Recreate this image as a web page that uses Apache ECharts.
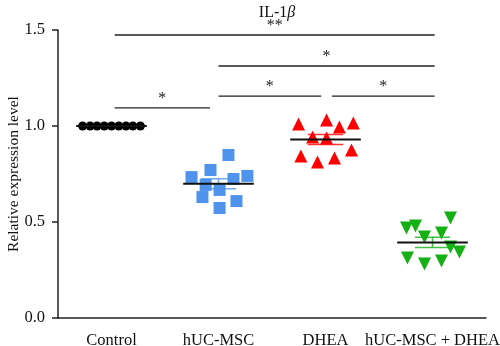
<!DOCTYPE html>
<html><head><meta charset="utf-8">
<script src="https://cdn.jsdelivr.net/npm/echarts@6/dist/echarts.min.js"></script>
<style>html,body{margin:0;padding:0;background:#fff}#c{width:500px;height:346px}</style>
</head><body><div id="c"></div><script>
const categories = ['Control', 'hUC-MSC', 'DHEA', 'hUC-MSC + DHEA'];
const controlValues = [1, 1, 1, 1, 1, 1, 1, 1, 1];
const controlJitter = [-0.27, -0.2, -0.135, -0.068, 0, 0.068, 0.135, 0.2, 0.27];
const hucValues = [0.849, 0.734, 0.771, 0.724, 0.740, 0.693, 0.667, 0.630, 0.609, 0.573];
const hucJitter = [0.093, -0.252, -0.075, 0.14, 0.27, -0.12, 0.01, -0.15, 0.168, 0.01];
const dheaValues = [1.010, 1.031, 0.995, 1.016, 0.943, 0.938, 0.844, 0.813, 0.833, 0.875];
const dheaJitter = [-0.252, 0.01, 0.13, 0.26, -0.12, 0.01, -0.23, -0.075, 0.084, 0.243];
const comboValues = [0.469, 0.479, 0.521, 0.422, 0.443, 0.370, 0.344, 0.3125, 0.281, 0.297];
const comboJitter = [-0.243, -0.159, 0.168, -0.075, 0.084, 0.168, 0.252, -0.234, -0.075, 0.084];
const yTicks = [0, 0.5, 1.0, 1.5];
const sigFrom = [0.03, 1.0, 1.0, 2.06, 0.03];
const sigTo = [3.02, 3.02, 1.96, 3.02, 0.92];
const sigLevel = [1.474, 1.3125, 1.156, 1.156, 1.094];
const sigLabel = ['**', '*', '*', '*', '*'];

const groups = [
  {values: controlValues, jitter: controlJitter, color: '#000000', symbol: 'circle', size: 9, rot: 0},
  {values: hucValues, jitter: hucJitter, color: '#4f93ec', symbol: 'rect', size: 12, rot: 0},
  {values: dheaValues, jitter: dheaJitter, color: '#ff0000', symbol: 'triangle', size: 13, rot: 0},
  {values: comboValues, jitter: comboJitter, color: '#14b014', symbol: 'triangle', size: 13, rot: 180}
];
const FONT = '"Liberation Serif", "DejaVu Serif", serif';

function mean(a){ return a.reduce((s,v)=>s+v,0)/a.length; }
function sem(a){ const m = mean(a); const v = a.reduce((s,x)=>s+(x-m)*(x-m),0)/(a.length-1); return Math.sqrt(v/a.length); }

const scatterSeries = groups.map((g, i) => ({
  type: 'scatter', xAxisIndex: 1, yAxisIndex: 0,
  symbol: g.symbol, symbolSize: g.size, symbolRotate: g.rot,
  itemStyle: {color: g.color, opacity: 1},
  z: 2,
  data: g.values.map((v, k) => [i + g.jitter[k], v])
}));

const meanData = groups.map((g, i) => [i, mean(g.values), sem(g.values)]);

const meanSeries = {
  type: 'custom', xAxisIndex: 1, yAxisIndex: 0, z: 5,
  data: meanData,
  renderItem(params, api) {
    const i = api.value(0), m = api.value(1), s = api.value(2);
    const col = groups[params.dataIndex].color;
    const a = api.coord([i - 0.33, m]), b = api.coord([i + 0.33, m]);
    const ch = [];
    if (s > 0.001) {
      const t1 = api.coord([i - 0.165, m + s]), t2 = api.coord([i + 0.165, m + s]);
      const b1 = api.coord([i - 0.165, m - s]), b2 = api.coord([i + 0.165, m - s]);
      const st = {stroke: col, lineWidth: 1.5, opacity: 0.8};
      ch.push({type: 'line', shape: {x1: t1[0], y1: t1[1], x2: t2[0], y2: t2[1]}, style: st});
      ch.push({type: 'line', shape: {x1: b1[0], y1: b1[1], x2: b2[0], y2: b2[1]}, style: st});
      const c = api.coord([i, m]);
      ch.push({type: 'line', shape: {x1: c[0], y1: t1[1], x2: c[0], y2: b1[1]}, style: st});
    }
    ch.push({type: 'line', shape: {x1: a[0], y1: a[1], x2: b[0], y2: b[1]}, style: {stroke: '#111', lineWidth: 2}});
    return {type: 'group', children: ch};
  }
};

const sigSeries = {
  type: 'custom', xAxisIndex: 1, yAxisIndex: 0, z: 6,
  data: sigFrom.map((f, k) => [f, sigTo[k], sigLevel[k], k]),
  renderItem(params, api) {
    const p1 = api.coord([api.value(0), api.value(2)]);
    const p2 = api.coord([api.value(1), api.value(2)]);
    const k = api.value(3);
    return {type: 'group', children: [
      {type: 'line', shape: {x1: p1[0], y1: p1[1], x2: p2[0], y2: p2[1]}, style: {stroke: '#222', lineWidth: 1.3}},
      {type: 'text', style: {text: sigLabel[k], x: (p1[0] + p2[0]) / 2, y: p1[1] - 1, align: 'center', verticalAlign: 'bottom', font: '16px ' + FONT, fill: '#222'}}
    ]};
  }
};

const chart = echarts.init(document.getElementById('c'), null, {renderer: 'canvas'});
chart.setOption({
  animation: false,
  backgroundColor: '#fff',
  title: {
    text: '{a|IL-1}{b|β}', left: 272, top: 0, textAlign: 'center',
    textStyle: {rich: {
      a: {fontFamily: FONT, fontSize: 16, fontWeight: 'normal', color: '#111'},
      b: {fontFamily: FONT, fontSize: 16, fontWeight: 'normal', fontStyle: 'italic', color: '#111'}
    }}
  },
  grid: {left: 58, right: 14, top: 30, bottom: 28, containLabel: false, outerBoundsMode: 'none'},
  xAxis: [
    {type: 'category', data: categories, boundaryGap: true,
     axisLine: {onZero: false, lineStyle: {color: '#222', width: 1.5}},
     axisTick: {alignWithLabel: true, length: 5, lineStyle: {color: '#222', width: 1.5}},
     axisLabel: {fontFamily: FONT, fontSize: 16.5, color: '#111', margin: 14, interval: 0}},
    {type: 'value', min: -0.5, max: 3.5, show: false}
  ],
  yAxis: [{
    type: 'value', min: yTicks[0], max: yTicks[yTicks.length - 1], interval: 0.5,
    name: 'Relative expression level', nameLocation: 'middle', nameGap: 36, nameMoveOverlap: false,
    nameTextStyle: {fontFamily: FONT, fontSize: 15.5, color: '#111'},
    axisLine: {show: true, onZero: false, lineStyle: {color: '#222', width: 1.5}},
    axisTick: {show: true, length: 6, lineStyle: {color: '#222', width: 1.5}},
    axisLabel: {fontFamily: FONT, fontSize: 16.5, color: '#111', margin: 13, formatter: v => v.toFixed(1)},
    splitLine: {show: false}
  }],
  series: [...scatterSeries, meanSeries, sigSeries]
});
</script></body></html>
